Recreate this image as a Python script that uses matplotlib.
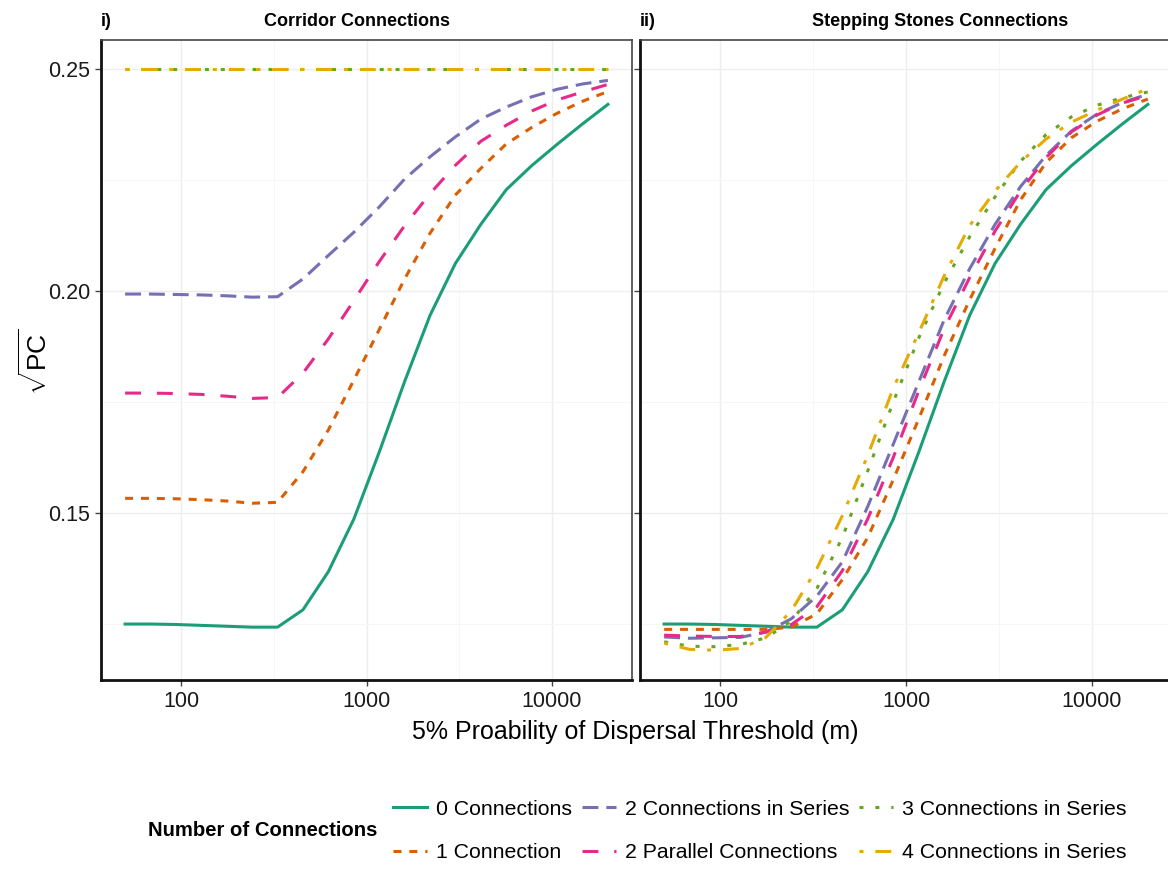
import numpy as np
import matplotlib.pyplot as plt
from matplotlib.ticker import FixedLocator, NullFormatter

plt.rcParams['font.family'] = ['Liberation Sans', 'DejaVu Sans']
plt.rcParams['mathtext.fontset'] = 'custom'
plt.rcParams['mathtext.rm'] = 'Liberation Sans'

# dispersal thresholds (m)
dispersal = [50, 68.5, 93.9, 128.7, 176.5, 241.9, 331.6, 454.5, 623, 854, 1171,
             1605, 2200, 3015, 4133, 5665, 7765, 10643, 14590, 20000]

series_names = ['0 Connections', '1 Connection', '2 Connections in Series',
                '2 Parallel Connections', '3 Connections in Series',
                '4 Connections in Series']

# i) corridor connections
corr_0 = [0.1250, 0.1250, 0.1249, 0.1247, 0.1245, 0.1243, 0.1243, 0.1282, 0.1368, 0.1486,
          0.1637, 0.1796, 0.1945, 0.2062, 0.2150, 0.2228, 0.2282, 0.2330, 0.2376, 0.2420]
corr_1 = [0.1533, 0.1533, 0.1532, 0.1530, 0.1527, 0.1522, 0.1524, 0.1593, 0.1687, 0.1799,
          0.1913, 0.2027, 0.2130, 0.2216, 0.2276, 0.2331, 0.2368, 0.2400, 0.2427, 0.2449]
corr_2s = [0.1993, 0.1993, 0.1992, 0.1991, 0.1989, 0.1986, 0.1987, 0.2027, 0.2080, 0.2132,
           0.2189, 0.2252, 0.2302, 0.2347, 0.2387, 0.2414, 0.2437, 0.2454, 0.2466, 0.2474]
corr_2p = [0.1770, 0.1770, 0.1769, 0.1767, 0.1763, 0.1758, 0.1760, 0.1815, 0.1892, 0.1978,
           0.2066, 0.2147, 0.2219, 0.2283, 0.2337, 0.2373, 0.2405, 0.2430, 0.2448, 0.2465]
corr_3s = [0.25, 0.25, 0.25, 0.25, 0.25, 0.25, 0.25, 0.25, 0.25, 0.25,
           0.25, 0.25, 0.25, 0.25, 0.25, 0.25, 0.25, 0.25, 0.25, 0.25]
corr_4s = [0.25, 0.25, 0.25, 0.25, 0.25, 0.25, 0.25, 0.25, 0.25, 0.25,
           0.25, 0.25, 0.25, 0.25, 0.25, 0.25, 0.25, 0.25, 0.25, 0.25]

# ii) stepping stones connections
step_0 = [0.1250, 0.1250, 0.1249, 0.1247, 0.1245, 0.1243, 0.1243, 0.1282, 0.1368, 0.1486,
          0.1637, 0.1796, 0.1945, 0.2062, 0.2150, 0.2228, 0.2282, 0.2330, 0.2376, 0.2420]
step_1 = [0.1238, 0.1238, 0.1238, 0.1238, 0.1238, 0.1243, 0.1273, 0.1350, 0.1445, 0.1575,
          0.1712, 0.1854, 0.1980, 0.2096, 0.2205, 0.2289, 0.2345, 0.2382, 0.2410, 0.2432]
step_2s = [0.1221, 0.1218, 0.1219, 0.1220, 0.1232, 0.1262, 0.1313, 0.1390, 0.1515, 0.1655,
           0.1795, 0.1935, 0.2050, 0.2150, 0.2235, 0.2305, 0.2360, 0.2398, 0.2424, 0.2443]
step_2p = [0.1225, 0.1223, 0.1222, 0.1222, 0.1232, 0.1249, 0.1289, 0.1370, 0.1487, 0.1625,
           0.1775, 0.1915, 0.2030, 0.2135, 0.2225, 0.2300, 0.2358, 0.2396, 0.2423, 0.2440]
step_3s = [0.1210, 0.1200, 0.1199, 0.1204, 0.1219, 0.1257, 0.1330, 0.1445, 0.1595, 0.1750,
           0.1894, 0.2018, 0.2122, 0.2212, 0.2292, 0.2352, 0.2392, 0.2418, 0.2435, 0.2448]
step_4s = [0.1207, 0.1193, 0.1191, 0.1195, 0.1220, 0.1280, 0.1375, 0.1494, 0.1630, 0.1781,
           0.1906, 0.2034, 0.2147, 0.2225, 0.2290, 0.2342, 0.2380, 0.2407, 0.2432, 0.2455]

# Dark2 palette and ggplot-like linetypes
colors = ['#1B9E77', '#D95F02', '#7570B3', '#E7298A', '#66A61E', '#E6AB02']
dashes = ['-', (0, (2.6, 2.6)), (0, (5.2, 2.6)), (0, (5.2, 5.2)),
          (0, (1.3, 3.9)), (0, (1.3, 3.9, 5.2, 3.9))]
lw = 2.2

W, H = 1168, 869
fig = plt.figure(figsize=(W / 100, H / 100), dpi=100)
ax1 = fig.add_axes([101 / W, 189 / H, 531 / W, 640 / H])
ax2 = fig.add_axes([640 / W, 189 / H, 532 / W, 640 / H])

panels = [(ax1, [corr_0, corr_1, corr_2s, corr_2p, corr_3s, corr_4s]),
          (ax2, [step_0, step_1, step_2s, step_2p, step_3s, step_4s])]

handles = []
for ax, data in panels:
    handles = []
    for vals, col, ls, name in zip(data, colors, dashes, series_names):
        h, = ax.plot(dispersal, vals, color=col, linestyle=ls, lw=lw, label=name)
        handles.append(h)
    ax.set_xscale('log')
    ax.set_xlim(10 ** 1.569, 10 ** 4.431)
    ax.set_ylim(0.1124, 0.2565)
    ax.xaxis.set_major_locator(FixedLocator([100, 1000, 10000]))
    ax.xaxis.set_minor_locator(FixedLocator([316.2, 3162]))
    ax.xaxis.set_minor_formatter(NullFormatter())
    ax.set_xticklabels(['100', '1000', '10000'])
    ax.yaxis.set_major_locator(FixedLocator([0.15, 0.20, 0.25]))
    ax.yaxis.set_minor_locator(FixedLocator([0.125, 0.175, 0.225]))
    ax.grid(which='major', color='#EEEEEE', lw=1.0)
    ax.grid(which='minor', color='#F6F6F6', lw=0.7)
    ax.set_axisbelow(True)
    ax.tick_params(which='major', direction='out', length=4, width=1,
                   color='#444444', labelsize=15.5, labelcolor='#1a1a1a', pad=4)
    ax.tick_params(which='minor', length=0)
    for side in ['top', 'right']:
        ax.spines[side].set_color('#444444')
        ax.spines[side].set_linewidth(1.2)
    for side in ['left', 'bottom']:
        ax.spines[side].set_color('#111111')
        ax.spines[side].set_linewidth(2.0)

ax1.set_yticklabels(['0.15', '0.20', '0.25'])
ax2.tick_params(axis='y', labelleft=False)

# panel headings
fig.text(101 / W, 1 - 21 / H, 'i)', fontsize=13, fontweight='bold', ha='left', va='center')
fig.text(357 / W, 1 - 21 / H, 'Corridor Connections', fontsize=13, fontweight='bold',
         ha='center', va='center')
fig.text(640 / W, 1 - 21 / H, 'ii)', fontsize=13, fontweight='bold', ha='left', va='center')
fig.text(940 / W, 1 - 21 / H, 'Stepping Stones Connections', fontsize=13, fontweight='bold',
         ha='center', va='center')

# axis titles
fig.text(635 / W, 1 - 732 / H, '5% Proability of Dispersal Threshold (m)', fontsize=18,
         ha='center', va='center')
fig.text(36 / W, 1 - 362 / H, r'$\sqrt{\mathrm{PC}}$', fontsize=19, rotation=90,
         ha='center', va='center')

# legend
fig.text(148 / W, 1 - 831 / H, 'Number of Connections', fontsize=14.6, fontweight='bold',
         ha='left', va='center')
fig.legend(handles, series_names, ncol=3, loc='center left',
           bbox_to_anchor=(393 / W, 1 - 831 / H), frameon=False, fontsize=15.3,
           handlelength=1.6, handletextpad=0.42, columnspacing=0.47,
           labelspacing=1.15, borderpad=0, borderaxespad=0)

fig.savefig('out.png', dpi=100, facecolor='white')
